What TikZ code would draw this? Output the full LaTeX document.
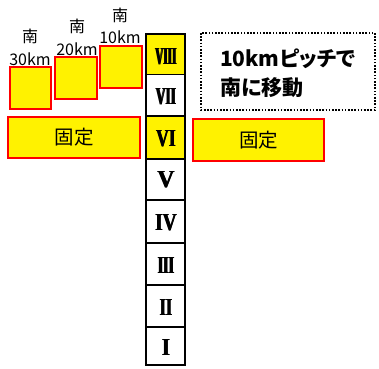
\documentclass[tikz,border=0pt]{standalone}
\usepackage{fontspec}
\usepackage{graphicx}
\newfontfamily\jp{Noto Sans CJK JP}
\newfontfamily\jpp[RawFeature=+palt]{Noto Sans CJK JP}
\newfontfamily\romf{Liberation Serif}
\tikzset{
  ybox/.style={draw=red, fill=yellow, line width=2.4pt},
  cell/.style={draw=black, line width=1.8pt},
  ycell/.style={draw=black, fill=yellow, line width=1.8pt},
  lbl/.style={inner sep=0pt, font=\jp\fontsize{16}{16}\selectfont},
  numer/.style={inner sep=0pt},
}
\newsavebox{\rmnbox}
\newcommand{\rmn}[3]{\sbox{\rmnbox}{\resizebox{#1pt}{16pt}{\romf\bfseries #3}}%
  \rlap{\usebox{\rmnbox}}\kern#2pt\rlap{\usebox{\rmnbox}}\kern#2pt\usebox{\rmnbox}}
\begin{document}
\begin{tikzpicture}[x=1pt,y=-1pt]
\useasboundingbox (0,0) rectangle (379,368);
% left moving boxes
\draw[ybox] (10.2,67.2) rectangle (50.8,108.8);
\draw[ybox] (55.2,57.2) rectangle (96.8,98.8);
\draw[ybox] (100.2,46.2) rectangle (141.8,87.8);
\node[lbl] (s30) at (30,36) {南};
\node[lbl] (k30) at (30,59) {30km};
\node[lbl] (s20) at (77,26) {南};
\node[lbl] (k20) at (77,49) {20km};
\node[lbl] (s10) at (120,15) {南};
\node[lbl] (k10) at (120,37) {10km};
% fixed boxes
\draw[ybox] (8.2,117.2) rectangle (139.8,157.8) node[midway, font=\jp\fontsize{19.5}{19.5}\selectfont] (fl) {固定};
\draw[ybox] (193.2,119.2) rectangle (323.8,160.8) node[midway, font=\jp\fontsize{19.5}{19.5}\selectfont] (fr) {固定};
% dotted note
\draw[line width=1.6pt, dash pattern=on 1.6pt off 1.6pt] (201,33) rectangle (375,110);
\node[align=left, inner sep=0pt, font=\jpp\bfseries\fontsize{21}{29}\selectfont] (note) at (288,73) {10kmピッチで\\南に移動};
% column
\draw[ycell] (146,34) rectangle (185,74.5);
\draw[cell, fill=white] (146,74.5) rectangle (185,116);
\draw[ycell] (146,116) rectangle (185,159);
\draw[cell] (146,159) rectangle (185,200);
\draw[cell] (146,200) rectangle (185,243);
\draw[cell] (146,243) rectangle (185,285);
\draw[cell] (146,285) rectangle (185,327);
\draw[cell] (146,327) rectangle (185,365);
\node[numer] (r8) at (166,57) {\rmn{21}{0.6}{VIII}};
\node[numer] (r7) at (166,97) {\rmn{20}{0.6}{VII}};
\node[numer] (r6) at (166,139) {\rmn{19.5}{0.4}{VI}};
\node[numer] (r5) at (166,180) {\rmn{17}{0.3}{V}};
\node[numer] (r4) at (166,223) {\rmn{21.5}{0.4}{IV}};
\node[numer] (r3) at (166,265) {\rmn{16}{0.6}{III}};
\node[numer] (r2) at (166,307) {\rmn{12.5}{0.4}{II}};
\node[numer] (r1) at (166,347) {\rmn{8}{0.3}{I}};
\end{tikzpicture}
\end{document}
